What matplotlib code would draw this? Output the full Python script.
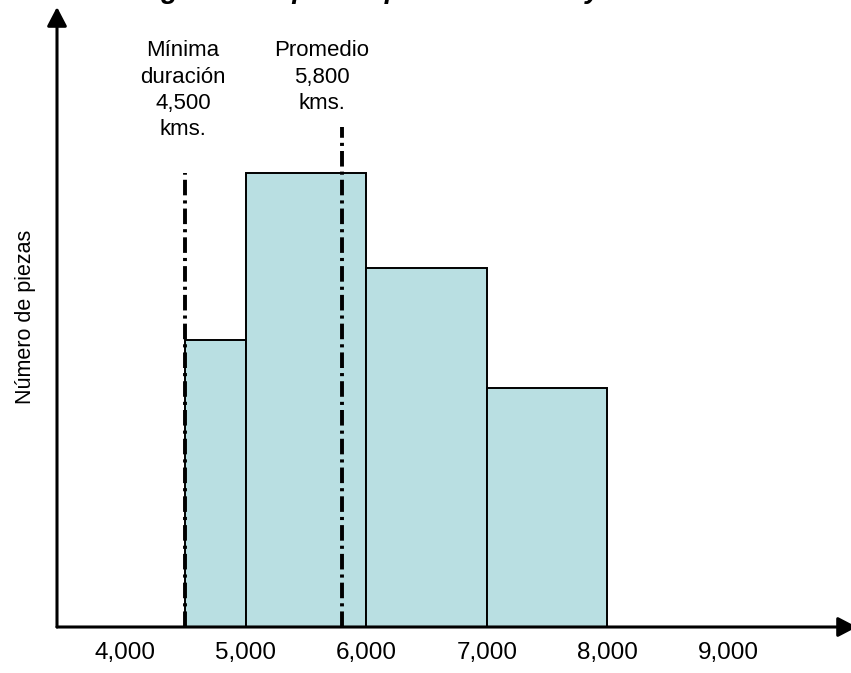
import matplotlib
matplotlib.use("Agg")
import matplotlib.pyplot as plt

plt.rcParams['font.family'] = ['Liberation Sans', 'DejaVu Sans']

# histogram bins (kms) and number of pieces in each
binEdges = [4500, 5000, 6000, 7000, 8000]
counts = [12, 19, 15, 10]
tickValues = [4000, 5000, 6000, 7000, 8000, 9000]
tickLabels = ["4,000", "5,000", "6,000", "7,000", "8,000", "9,000"]
minDuration = 4500
average = 5800
title = "Histograma de piezas por kilómetros y duración"

W, H = 851, 673
fig = plt.figure(figsize=(W / 100, H / 100), dpi=100)
ax = fig.add_axes([57 / W, 46 / H, 800 / W, 620 / H])

lefts = binEdges[:-1]
widths = [binEdges[i + 1] - binEdges[i] for i in range(len(counts))]
ax.bar(lefts, counts, width=widths, align="edge", color="#B9DFE2",
       edgecolor="black", linewidth=1.4, zorder=2)

# reference lines for minimum duration and average
dashdot = (0, (4, 1.3, 0.8, 1.3))
ax.plot([minDuration, minDuration], [0, 19.0], color="black", linewidth=2.8,
        linestyle=dashdot, zorder=3)
ax.plot([average, average], [0, 20.9], color="black", linewidth=2.8,
        linestyle=dashdot, zorder=3)

ax.text(4480, 24.55, "Mínima\nduración\n4,500\nkms.", ha="center", va="top",
        fontsize=16, linespacing=1.33)
ax.text(5630, 24.55, "Promedio\n5,800\nkms.", ha="center", va="top",
        fontsize=16, linespacing=1.33)

ax.set_xlim(3436, 10070)
ax.set_ylim(0, 25.94)
ax.set_xticks(tickValues)
ax.set_xticklabels(tickLabels, fontsize=17.5)
ax.tick_params(axis="x", length=0, pad=11)
ax.set_yticks([])
ax.set_ylabel("Número de piezas", fontsize=15.5, labelpad=15)
for s in ax.spines.values():
    s.set_visible(False)

# axis arrows
arrow = dict(arrowstyle="-|>,head_length=1.15,head_width=0.6", mutation_scale=10,
             color="black", linewidth=2.2, shrinkA=0, shrinkB=0)
ax.annotate("", xy=(1.0, 0), xytext=(0, 0), xycoords="axes fraction",
            arrowprops=arrow, annotation_clip=False)
ax.annotate("", xy=(0, 1.0), xytext=(0, 0), xycoords="axes fraction",
            arrowprops=arrow, annotation_clip=False)

fig.text(0.48, 1.0 + 2 / H, title, ha="center", va="baseline", fontsize=20,
         fontweight="bold", fontstyle="italic")

fig.savefig("out.png", dpi=100)
